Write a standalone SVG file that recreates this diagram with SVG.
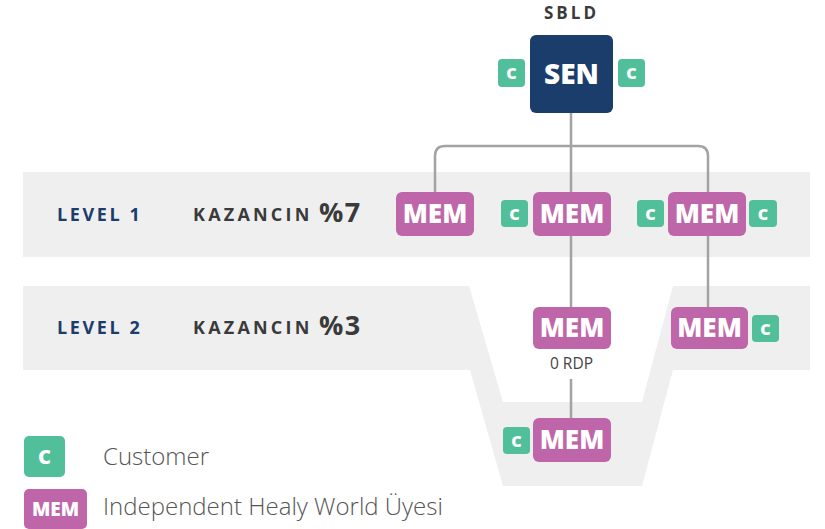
<svg xmlns="http://www.w3.org/2000/svg" width="825" height="529" viewBox="0 0 825 529">
<style>
.band{fill:#efefef}
.mem rect{fill:#bf65a9}
.c rect{fill:#52bf9b}
.t{font-family:"Open Sans","Liberation Sans",sans-serif;font-weight:800;fill:#fff;text-anchor:middle}
.mt{font-size:26px}
.ct{font-size:16px}
.lvl{font-family:"Open Sans","Liberation Sans",sans-serif;font-weight:700;font-size:18px;letter-spacing:2.6px;fill:#1b3d6b}
.kz{font-family:"Open Sans","Liberation Sans",sans-serif;font-weight:700;font-size:18px;letter-spacing:3.2px;fill:#3a3a3a}
.pc{font-family:"Open Sans","Liberation Sans",sans-serif;font-weight:700;font-size:27px;letter-spacing:1.5px;fill:#3a3a3a}
.leg{font-family:"Open Sans","Liberation Sans",sans-serif;font-weight:300;font-size:24px;fill:#555}
.conn{fill:none;stroke:#a3a3a3;stroke-width:2.5}
</style>
<rect class="band" x="23" y="172" width="787" height="85"/>
<path class="band" d="M23,286 L469,286 L503,402 L642,402 L673,286 L810,286 L810,370 L673,370 L642,486 L503,486 L470,370 L23,370 Z"/>
<text class="lvl" x="57" y="221">LEVEL 1</text>
<text class="kz" x="193" y="221">KAZANCIN</text>
<text class="pc" x="319" y="221.5">%7</text>
<text class="lvl" x="57" y="334">LEVEL 2</text>
<text class="kz" x="193" y="334">KAZANCIN</text>
<text class="pc" x="319" y="334.5">%3</text>
<g id="connectors">
<path class="conn" d="M571,113 V307"/>
<path class="conn" d="M435,192 V156 Q435,146 445,146 H698 Q708,146 708,156 V307"/>
<path class="conn" d="M571,379 V418"/>
</g>
<text x="571.5" y="19" font-family="'Open Sans','Liberation Sans',sans-serif" font-weight="700" font-size="17" letter-spacing="3" fill="#3a3a3a" text-anchor="middle">SBLD</text>
<g id="sen">
<rect x="530" y="35" width="83" height="78" rx="6" fill="#1b3d6b"/>
<text class="t" x="571.5" y="84" font-size="28">SEN</text>
</g>
<g id="sen-c1" class="c"><rect x="498" y="59" width="27" height="28" rx="4"/><text class="t ct" x="511.5" y="79">C</text></g>
<g id="sen-c2" class="c"><rect x="618" y="59" width="27" height="28" rx="4"/><text class="t ct" x="631.5" y="79">C</text></g>
<g id="mem1" class="mem"><rect x="396" y="192" width="78" height="44" rx="6"/><text class="t mt" x="435" y="223">MEM</text></g>
<g id="mem2-c" class="c"><rect x="501" y="200" width="27" height="27" rx="4"/><text class="t ct" x="514.5" y="219.5">C</text></g>
<g id="mem2" class="mem"><rect x="533" y="192" width="78" height="44" rx="6"/><text class="t mt" x="572" y="223">MEM</text></g>
<g id="mem3-c1" class="c"><rect x="637" y="200" width="27" height="27" rx="4"/><text class="t ct" x="650.5" y="219.5">C</text></g>
<g id="mem3" class="mem"><rect x="668" y="192" width="78" height="44" rx="6"/><text class="t mt" x="707" y="223">MEM</text></g>
<g id="mem3-c2" class="c"><rect x="749" y="200" width="28" height="27" rx="4"/><text class="t ct" x="763" y="219.5">C</text></g>
<g id="mem4" class="mem"><rect x="533" y="307" width="78" height="42" rx="6"/><text class="t mt" x="572" y="337">MEM</text></g>
<text x="571.5" y="369" font-family="'Open Sans','Liberation Sans',sans-serif" font-size="15.5" fill="#444" text-anchor="middle">0 RDP</text>
<g id="mem5" class="mem"><rect x="671" y="307" width="77" height="42" rx="6"/><text class="t mt" x="709.5" y="337">MEM</text></g>
<g id="mem5-c" class="c"><rect x="752" y="315" width="27" height="27" rx="4"/><text class="t ct" x="765.5" y="334.5">C</text></g>
<g id="mem6-c" class="c"><rect x="503" y="427" width="27" height="27" rx="4"/><text class="t ct" x="516.5" y="446.5">C</text></g>
<g id="mem6" class="mem"><rect x="533" y="418" width="78" height="44" rx="6"/><text class="t mt" x="572" y="449">MEM</text></g>
<g id="legend-c" class="c"><rect x="24" y="436" width="41" height="41" rx="5"/><text class="t" x="44.5" y="464" font-size="20">C</text></g>
<text class="leg" x="103" y="465">Customer</text>
<g id="legend-mem" class="mem"><rect x="24" y="489" width="63" height="40" rx="5"/><text class="t" x="55.5" y="516" font-size="19">MEM</text></g>
<text class="leg" x="103" y="515">Independent Healy World Üyesi</text>
</svg>
